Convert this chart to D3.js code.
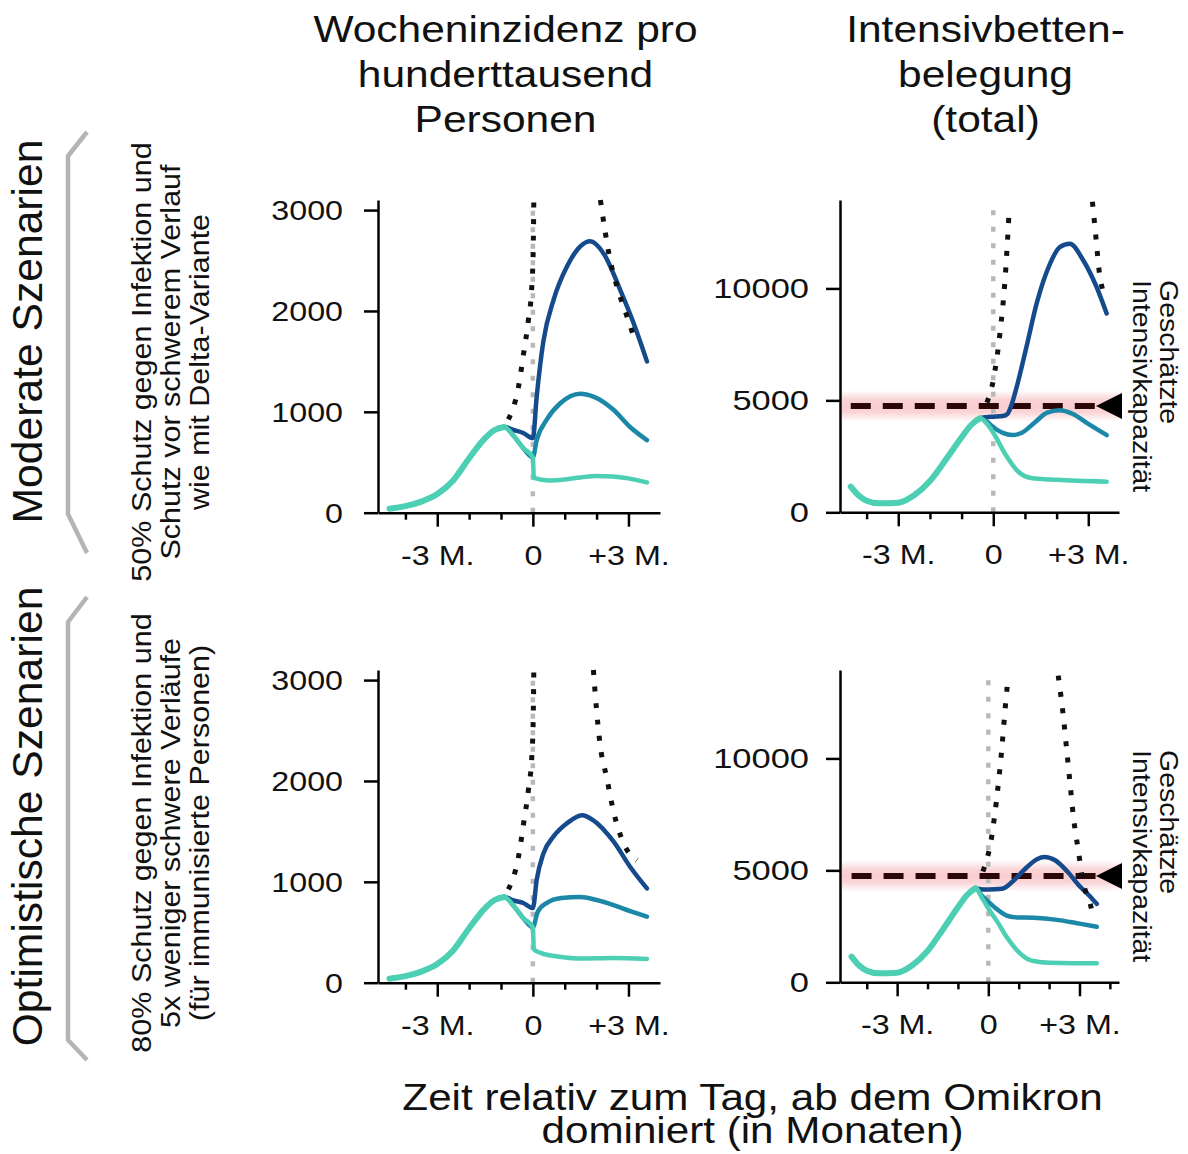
<!DOCTYPE html>
<html><head><meta charset="utf-8">
<script src="https://cdn.jsdelivr.net/npm/d3@7"></script>
<style>html,body{margin:0;padding:0;background:#fff;} svg{display:block;}</style>
</head><body>
<script>
// ---------------- data ----------------
const monthTicks = [-4,-3,-2,-1,0,1,2,3,4];
const majorMonths = [-3,0,3];
const monthLabels = {"-3":"-3 M.","0":"0","3":"+3 M."};
const incTicks = [0,1000,2000,3000];
const icuTicks = [0,5000,10000];
const icuCapacity = 4750;
const icuCapacityRange = [4050, 5450];

const colTitles = [["Wocheninzidenz pro","hunderttausend","Personen"],["Intensivbetten-","belegung","(total)"]];
const rowTitles = ["Moderate Szenarien","Optimistische Szenarien"];
const rowNotes = [["50% Schutz gegen Infektion und","Schutz vor schwerem Verlauf","wie mit Delta-Variante"],
                  ["80% Schutz gegen Infektion und","5x weniger schwere Verläufe","(für immunisierte Personen)"]];
const capacityLabel = ["Geschätzte","Intensivkapazität"];
const xTitle = ["Zeit relativ zum Tag, ab dem Omikron","dominiert (in Monaten)"];

// incidence (per 100k), month vs value
const incEarly = [[-4.5,40],[-4.0,65],[-3.5,110],[-3.0,185],[-2.5,320],[-2.0,540],[-1.5,740],[-1.2,820],[-0.9,850]];
const incModDark  = [[-0.6,820],[-0.3,790],[0.0,740],[0.12,1150],[0.33,1700],[0.65,2110],[1.07,2440],[1.49,2640],[1.8,2690],[2.22,2570],[2.74,2210],[3.16,1880],[3.58,1500]];
const incModMid   = [[-0.6,760],[-0.3,640],[0.0,550],[0.12,720],[0.43,920],[0.86,1085],[1.49,1180],[1.9,1150],[2.53,1020],[3.05,850],[3.58,720]];
const incModLight = [[-0.6,760],[-0.3,640],[0.0,550],[0.03,345],[0.5,320],[1.0,330],[1.5,350],[2.0,365],[2.5,360],[3.0,340],[3.58,300]];
const incModDotA  = [[-0.77,925],[-0.45,1250],[-0.29,1580],[-0.14,1910],[-0.03,2260],[0.01,2600],[0.03,3100]];
const incModDotB  = [[2.12,3100],[2.41,2530],[2.7,2180],[2.95,1950],[3.17,1740]];

const incOptDark  = [[-0.6,815],[-0.3,790],[0.0,740],[0.12,1020],[0.33,1280],[0.65,1450],[1.07,1580],[1.54,1660],[1.9,1610],[2.53,1400],[3.05,1150],[3.58,935]];
const incOptMid   = [[-0.6,760],[-0.3,640],[0.0,550],[0.15,700],[0.43,790],[0.9,840],[1.49,850],[2.0,820],[2.53,770],[3.05,710],[3.58,655]];
const incOptLight = [[-0.6,760],[-0.3,640],[0.0,550],[0.03,330],[0.4,280],[0.9,255],[1.5,240],[2.5,245],[3.58,235]];
const incOptDotA  = [[-0.77,925],[-0.45,1250],[-0.29,1580],[-0.14,1910],[-0.03,2260],[0.01,2600],[0.03,3100]];
const incOptDotB  = [[1.9,3100],[2.0,2700],[2.11,2360],[2.32,2030],[2.53,1700],[2.85,1380],[3.27,1215]];

// ICU occupancy (total)
const icuEarly = [[-4.5,1150],[-4.25,750],[-4.0,520],[-3.6,400],[-3.0,430],[-2.5,760],[-2.0,1400],[-1.5,2350],[-1.0,3350],[-0.7,3900],[-0.42,4200]];
const icuModDark  = [[-0.2,4250],[0.0,4270],[0.3,4300],[0.45,4400],[0.6,4900],[0.74,5600],[1.05,7400],[1.37,9330],[1.79,11100],[2.1,11850],[2.42,12000],[2.84,11260],[3.26,10070],[3.58,8880]];
const icuModMid   = [[-0.2,4050],[0.0,3800],[0.3,3550],[0.6,3450],[0.9,3550],[1.3,4000],[1.7,4450],[2.1,4560],[2.5,4400],[3.0,3950],[3.58,3450]];
const icuModLight = [[-0.2,3950],[0.0,3550],[0.4,2550],[0.8,1800],[1.2,1530],[2.0,1450],[3.58,1370]];
const icuModDotA  = [[-0.2,4900],[0.0,5900],[0.21,7990],[0.37,10370],[0.5,13420]];
const icuModDotB  = [[3.13,13870],[3.24,12300],[3.34,10820],[3.45,9950]];

const icuOptDark  = [[-0.2,4150],[0.0,4150],[0.45,4180],[0.8,4500],[1.2,5050],[1.6,5500],[1.85,5600],[2.2,5450],[2.6,4950],[3.0,4300],[3.3,3900],[3.57,3500]];
const icuOptMid   = [[-0.2,3850],[0.0,3600],[0.3,3250],[0.6,2980],[0.9,2900],[1.5,2880],[2.2,2800],[3.0,2620],[3.57,2480]];
const icuOptLight = [[-0.2,3750],[0.0,3300],[0.3,2700],[0.6,2030],[1.0,1350],[1.4,980],[2.0,870],[2.8,850],[3.57,850]];
const icuOptDotA  = [[-0.18,4950],[0.11,6500],[0.27,8140],[0.44,10370],[0.55,12150],[0.64,13500]];
const icuOptDotB  = [[2.3,13700],[2.47,11860],[2.58,10370],[2.69,8880],[2.8,7390],[2.96,5900],[3.13,4420],[3.35,3530],[3.45,2930]];

// ---------------- layout / style ----------------
const W = 1188, H = 1154;
const FONT = "'Liberation Sans', Arial, Helvetica, sans-serif";
const DARK = "#154a8c", MID = "#1b88a8", LIGHT = "#4dcfb4";

const panels = [
  {left:378, right:660,  xMin:-4.86, xMax:3.99, bottom:512.7, top:200, yMax:3100,  ticks:incTicks, pad:21, yFac:1.15,
   early:incEarly, dark:incModDark, mid:incModMid, light:incModLight, dots:[incModDotA,incModDotB], cap:false},
  {left:840, right:1119, xMin:-4.84, xMax:3.97, bottom:512.3, top:200, yMax:13950, ticks:icuTicks, pad:17, yFac:1.23,
   early:icuEarly, dark:icuModDark, mid:icuModMid, light:icuModLight, dots:[icuModDotA,icuModDotB], cap:true, capTop:280},
  {left:378, right:660,  xMin:-4.86, xMax:3.99, bottom:982.7, top:670, yMax:3100,  ticks:incTicks, pad:21, yFac:1.15,
   early:incEarly, dark:incOptDark, mid:incOptMid, light:incOptLight, dots:[incOptDotA,incOptDotB], cap:false},
  {left:840, right:1119, xMin:-4.88, xMax:4.30, bottom:982.3, top:670, yMax:13950, ticks:icuTicks, pad:17, yFac:1.23,
   early:icuEarly, dark:icuOptDark, mid:icuOptMid, light:icuOptLight, dots:[icuOptDotA,icuOptDotB], cap:true, capTop:750},
];

const svg = d3.select("body").append("svg").attr("width", W).attr("height", H)
  .style("font-family", FONT);

function fit(sel, factor) {
  sel.each(function () {
    if (!this.textContent) return;
    const L = this.getComputedTextLength();
    d3.select(this).attr("textLength", L * factor).attr("lengthAdjust", "spacingAndGlyphs");
  });
}

const defs = svg.append("defs");
const grad = defs.append("linearGradient").attr("id", "capBand")
  .attr("x1", 0).attr("y1", 0).attr("x2", 0).attr("y2", 1);
[[0,0],[0.3,0.32],[0.5,0.38],[0.7,0.32],[1,0]].forEach(([o,a]) =>
  grad.append("stop").attr("offset", o).attr("stop-color", "#f07a82").attr("stop-opacity", a));

panels.forEach(p => {
  const x = d3.scaleLinear().domain([p.xMin, p.xMax]).range([p.left, p.right]);
  const y = d3.scaleLinear().domain([0, p.yMax]).range([p.bottom, p.top]);
  const g = svg.append("g");
  const line = d3.line().x(d => x(d[0])).y(d => y(d[1])).curve(d3.curveMonotoneX);

  // capacity band
  if (p.cap) {
    g.append("rect").attr("x", p.left + 2).attr("width", p.right - p.left - 2)
      .attr("y", y(icuCapacityRange[1])).attr("height", y(icuCapacityRange[0]) - y(icuCapacityRange[1]))
      .attr("fill", "url(#capBand)");
  }

  // grey dotted reference at day 0
  g.append("line").attr("x1", x(0)).attr("x2", x(0)).attr("y1", y(0)).attr("y2", y(p.yMax))
    .attr("stroke", "#b8b8b8").attr("stroke-width", 4.5).attr("stroke-dasharray", "5 11.5");

  // capacity dashed line
  if (p.cap) {
    const ex = d3.extent(p.early.concat(p.dark), d => d[0]);
    g.append("path").attr("d", line([[ex[0], icuCapacity],[ex[1], icuCapacity]]))
      .attr("fill", "none").attr("stroke", "#2a0808").attr("stroke-width", 6)
      .attr("stroke-dasharray", "20 12");
  }

  // scenario curves
  [[p.dark, DARK],[p.mid, MID],[p.light, LIGHT]].forEach(([s, c]) => {
    g.append("path").attr("d", line(p.early.concat(s))).attr("fill", "none")
      .attr("stroke", c).attr("stroke-width", 4.5).attr("stroke-linejoin", "round").attr("stroke-linecap", "round");
  });
  g.append("path").attr("d", line(p.early)).attr("fill", "none")
    .attr("stroke", LIGHT).attr("stroke-width", 6).attr("stroke-linecap", "round");

  // black dotted growth references
  p.dots.forEach(s => {
    g.append("path").attr("d", line(s)).attr("fill", "none")
      .attr("stroke", "#111").attr("stroke-width", 5).attr("stroke-dasharray", "5 11.5");
  });

  // triangle marker
  if (p.cap) {
    const cy = y(icuCapacity);
    g.append("path").attr("d", `M${p.right - 23},${cy} L${p.right + 3},${cy - 13} L${p.right + 3},${cy + 13} Z`)
      .attr("fill", "#000");
  }

  // axes
  const xa = g.append("g").attr("transform", `translate(0,${p.bottom})`)
    .call(d3.axisBottom(x).tickValues(monthTicks.filter(m => m >= p.xMin && m <= p.xMax))
      .tickSize(7).tickSizeOuter(0).tickFormat(d => monthLabels[d] || ""));
  xa.attr("font-family", FONT).attr("font-size", 28);
  xa.selectAll("path, line").attr("stroke", "#000").attr("stroke-width", 2.5);
  xa.selectAll(".tick line").attr("y2", d => majorMonths.includes(d) ? 14 : 7);
  xa.selectAll(".tick text").attr("y", 52).attr("dy", null).attr("fill", "#111");
  fit(xa.selectAll(".tick text"), 1.15);

  const ya = g.append("g").attr("transform", `translate(${p.left},0)`)
    .call(d3.axisLeft(y).tickValues(p.ticks).tickSize(14).tickSizeOuter(0).tickPadding(p.pad).tickFormat(d3.format("d")));
  ya.attr("font-family", FONT).attr("font-size", 28);
  ya.selectAll("path, line").attr("stroke", "#000").attr("stroke-width", 2.5);
  ya.selectAll(".tick text").attr("dy", "0.34em").attr("fill", "#111");
  fit(ya.selectAll(".tick text"), p.yFac);

  // capacity label
  if (p.cap) {
    const t = g.append("g").attr("transform", `translate(1160,${p.capTop}) rotate(90)`);
    capacityLabel.forEach((s, i) => {
      t.append("text").attr("x", 0).attr("y", i * 27).attr("font-size", 25).attr("fill", "#111")
        .attr("text-anchor", "start").text(s);
    });
    fit(t.selectAll("text"), 1.14);
  }
});

// column titles
const colCenters = [505.5, 985.5];
colTitles.forEach((lines, c) => {
  lines.forEach((s, i) => {
    svg.append("text").attr("x", colCenters[c]).attr("y", 42 + i * 45).attr("text-anchor", "middle")
      .attr("font-size", 37.5).attr("fill", "#111").attr("class", "ttl").text(s);
  });
});
fit(svg.selectAll("text.ttl"), 1.133);

// x axis title
xTitle.forEach((s, i) => {
  svg.append("text").attr("x", 752.5).attr("y", 1110 + i * 33).attr("text-anchor", "middle")
    .attr("font-size", 37.5).attr("fill", "#111").attr("class", "xt").text(s);
});
fit(svg.selectAll("text.xt"), 1.125);

// row labels, brackets, notes
const rowCenters = [331.5, 816.5];
const noteCenters = [362, 833];
const brackets = [
  [[87,132],[68,156],[68,514],[87,553]],
  [[87,597],[68,622],[68,1040],[87,1060]]
];
rowTitles.forEach((s, r) => {
  const t = svg.append("text").attr("transform", `translate(42,${rowCenters[r]}) rotate(-90)`)
    .attr("text-anchor", "middle").attr("font-size", 42).attr("fill", "#111").text(s);
  fit(t, 1.015);
  svg.append("path").attr("d", d3.line()(brackets[r])).attr("fill", "none")
    .attr("stroke", "#b4b4b4").attr("stroke-width", 4.5).attr("stroke-linejoin", "round");
  const ng = svg.append("g").attr("transform", `translate(151,${noteCenters[r]}) rotate(-90)`);
  rowNotes[r].forEach((n, i) => {
    ng.append("text").attr("x", 0).attr("y", i * 29).attr("text-anchor", "middle")
      .attr("font-size", 27).attr("fill", "#111").text(n);
  });
  fit(ng.selectAll("text"), 1.13);
});
</script>
</body></html>
